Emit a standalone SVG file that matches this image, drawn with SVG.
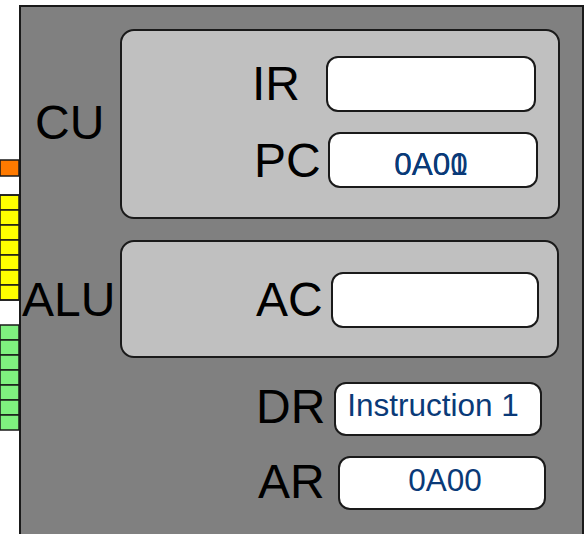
<svg xmlns="http://www.w3.org/2000/svg" width="588" height="534" viewBox="0 0 588 534">
<style>
.lbl{font-family:"Liberation Sans",Arial,sans-serif;font-size:48px;fill:#000}
.val{font-family:"Liberation Sans",Arial,sans-serif;font-size:31.5px;fill:#0a3a78;text-anchor:middle}
.panel{fill:#c0c0c0;stroke:#1a1a1a;stroke-width:2}
.reg{fill:#fff;stroke:#1a1a1a;stroke-width:2}
.row{stroke:#1a1a1a;stroke-width:1.5}
</style>
<rect x="0" y="0" width="588" height="534" fill="#fff"/>
<g id="strip">
<rect x="0" y="160" width="19" height="16" fill="#ff7a00" class="row"/>
<rect x="0" y="195" width="19" height="15" fill="#ffff00" class="row"/>
<rect x="0" y="210" width="19" height="15" fill="#ffff00" class="row"/>
<rect x="0" y="225" width="19" height="15" fill="#ffff00" class="row"/>
<rect x="0" y="240" width="19" height="15" fill="#ffff00" class="row"/>
<rect x="0" y="255" width="19" height="15" fill="#ffff00" class="row"/>
<rect x="0" y="270" width="19" height="15" fill="#ffff00" class="row"/>
<rect x="0" y="285" width="19" height="15" fill="#ffff00" class="row"/>
<rect x="0" y="325" width="19" height="15" fill="#7ff07f" class="row"/>
<rect x="0" y="340" width="19" height="15" fill="#7ff07f" class="row"/>
<rect x="0" y="355" width="19" height="15" fill="#7ff07f" class="row"/>
<rect x="0" y="370" width="19" height="15" fill="#7ff07f" class="row"/>
<rect x="0" y="385" width="19" height="15" fill="#7ff07f" class="row"/>
<rect x="0" y="400" width="19" height="15" fill="#7ff07f" class="row"/>
<rect x="0" y="415" width="19" height="15" fill="#7ff07f" class="row"/>
<line x1="0" y1="195" x2="19" y2="195" class="row"/>
<line x1="0" y1="300" x2="19" y2="300" class="row"/>
</g>
<g id="cpu">
<rect x="20" y="6" width="563" height="540" fill="#808080" stroke="#1a1a1a" stroke-width="2"/>
</g>
<g id="cu">
<rect x="121" y="30" width="438" height="188" rx="13" class="panel"/>
<text x="35" y="139" class="lbl">CU</text>
</g>
<g id="alu">
<rect x="121" y="241" width="437" height="116" rx="13" class="panel"/>
<text x="22" y="316" class="lbl">ALU</text>
</g>
<g id="ir">
<text x="252" y="100" class="lbl">IR</text>
<rect x="327" y="57" width="208" height="54" rx="11" class="reg"/>
</g>
<g id="pc">
<text x="254" y="177" class="lbl">PC</text>
<rect x="329" y="133" width="208" height="54" rx="11" class="reg"/>
<text x="431" y="175" class="val">0A00</text>
<text x="431" y="175" class="val">0A01</text>
</g>
<g id="ac">
<text x="256" y="316" class="lbl">AC</text>
<rect x="332" y="273" width="206" height="54" rx="11" class="reg"/>
</g>
<g id="dr">
<text x="256" y="423" class="lbl">DR</text>
<rect x="335" y="383" width="206" height="52" rx="11" class="reg"/>
<text x="433" y="416" class="val">Instruction 1</text>
</g>
<g id="ar">
<text x="258" y="498" class="lbl">AR</text>
<rect x="339" y="457" width="206" height="52" rx="11" class="reg"/>
<text x="445" y="491" class="val">0A00</text>
</g>
<g id="connectors"/>
</svg>
